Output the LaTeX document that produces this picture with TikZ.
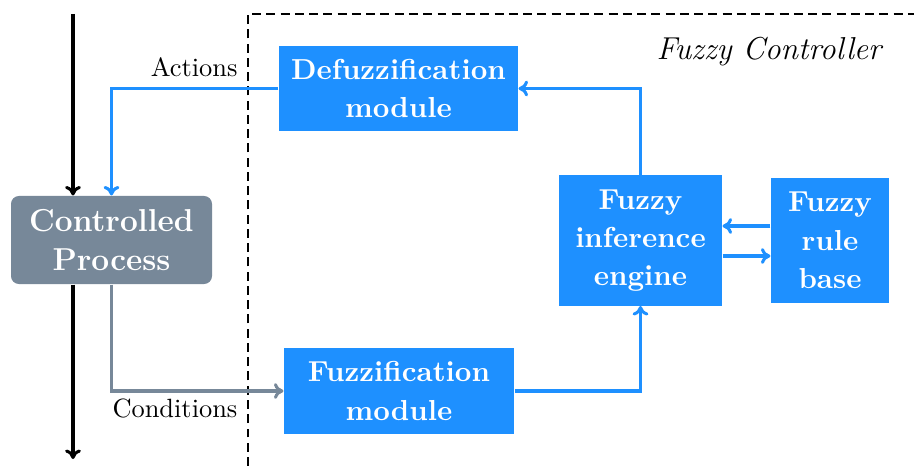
\documentclass[tikz,border=0pt]{standalone}
\usepackage{fontspec}
\usetikzlibrary{arrows.meta}
\definecolor{boxblue}{RGB}{30,144,255}
\definecolor{procgray}{RGB}{119,136,153}
% one drawing unit
\newcommand\pxl{0.3788pt}
\begin{document}
\begin{tikzpicture}[x=0.3788pt,y=-0.3788pt,
  >={Computer Modern Rightarrow[length=3.6pt,width=6pt]},
  module/.style={fill=boxblue,text=white,align=center,inner sep=0pt,
    font=\fontsize{10.95}{14.5}\selectfont\bfseries},
  procbox/.style={fill=procgray,text=white,align=center,inner sep=0pt,
    rounded corners=3pt,font=\fontsize{12}{15}\selectfont\bfseries},
  bluearrow/.style={draw=boxblue,line width=1.15pt,->},
  grayarrow/.style={draw=procgray,line width=1.15pt,->},
  flow/.style={draw=black,line width=1.15pt,->},
  boundary/.style={draw=black,line width=0.8pt,dash pattern=on 3.4pt off 2pt},
  tag/.style={inner sep=0pt,font=\fontsize{10}{12}\selectfont}]
\useasboundingbox (0,0) rectangle (914,466);

% controller boundary
\coordinate (bl) at (248,466);
\coordinate (tl) at (248,14);
\coordinate (tr) at (914,14);
\draw[boundary] (bl) -- (tl) -- (tr);
\node[inner sep=0pt,anchor=base,font=\fontsize{12}{14.5}\selectfont\itshape]
  (title) at (769,60) {Fuzzy Controller};

% blocks
\node[procbox,minimum width=201*\pxl,minimum height=88*\pxl] (process) at (111.5,240) {Controlled\\Process};
\node[module,minimum width=239*\pxl,minimum height=85*\pxl] (defuzz) at (398.5,88.5) {Defuzzification\\module};
\node[module,minimum width=230*\pxl,minimum height=86*\pxl] (fuzz) at (399,391) {Fuzzification\\module};
\node[module,minimum width=163*\pxl,minimum height=130*\pxl] (inference) at (640.5,240.5) {Fuzzy\\inference\\engine};
\node[module,minimum width=118*\pxl,minimum height=124*\pxl] (rule) at (830,240.5) {Fuzzy\\rule\\base};

% process input and output
\coordinate (in) at (73,14);
\coordinate (out) at (73,459);
\draw[flow] (in) -- (in |- process.north);
\draw[flow] (out |- process.south) -- (out);

% control loop
\draw[bluearrow] (defuzz.west) -| (process.north);
\draw[grayarrow] (process.south) |- (fuzz.west);
\draw[bluearrow] (fuzz.east) -| (inference.south);
\draw[bluearrow] (inference.north) |- (defuzz.east);
\draw[bluearrow] ([yshift=14.5*\pxl]rule.west) -- ([yshift=14.5*\pxl]inference.east);
\draw[bluearrow] ([yshift=-15.5*\pxl]inference.east) -- ([yshift=-15.5*\pxl]rule.west);

% loop labels
\node[tag,anchor=base east] (actions) at (238,77) {Actions};
\node[tag,anchor=base west] (conditions) at (112,417) {Conditions};
\end{tikzpicture}
\end{document}
